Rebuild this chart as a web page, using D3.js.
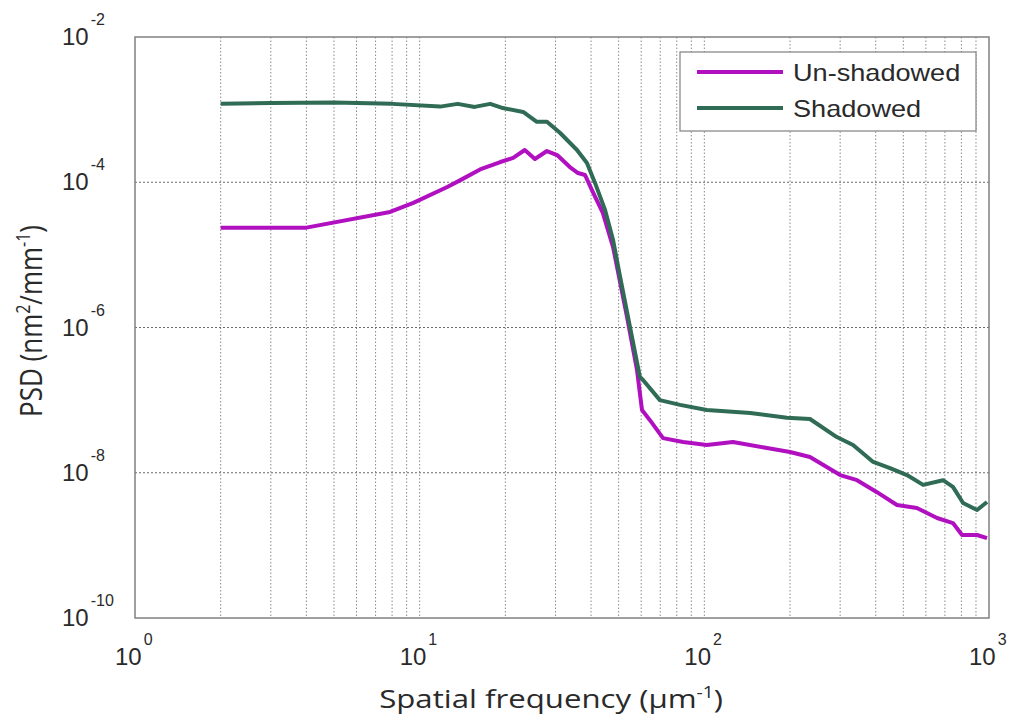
<!DOCTYPE html>
<html>
<head>
    <meta charset="utf-8">
    <style>
        body {
            margin: 0;
            background: white;
        }

        svg {
            display: block;
        }

        .tick-label {
            font-family: 'Liberation Sans', Arial, sans-serif;
            fill: #2a2a2a;
        }

        .axis-title {
            font-family: 'Open Sans', 'Noto Sans', sans-serif;
            fill: #2a2a2a;
        }
    </style>
</head>
<body>
    <svg width="1013" height="724"></svg>

<script src="https://d3js.org/d3.v7.min.js"></script>
<script>
    // spatial frequency (um^-1) and PSD values
    let unshadowedX = [2, 4, 7.87, 9.5, 12.5, 13.9, 16.3, 19.2, 21.3, 23.4, 25.4, 28.0, 30.4, 33.7, 36.0, 38.1,
        40.6, 44.0, 47.8, 53.5, 58.0, 60.4, 64.4, 71.6, 84.2, 102, 126, 166, 200, 235, 300, 344, 404, 475,
        558, 657, 747, 804, 908, 984]
    let unshadowedY = [2.37e-5, 2.37e-5, 3.9e-5, 5.2e-5, 8.6e-5, 1.07e-4, 1.5e-4, 1.9e-4, 2.16e-4, 2.78e-4,
        2.09e-4, 2.69e-4, 2.37e-4, 1.62e-4, 1.34e-4, 1.26e-4, 7.3e-5, 3.78e-5, 1.28e-5, 1.4e-6, 2.6e-7,
        7.3e-8, 5.3e-8, 3.0e-8, 2.65e-8, 2.41e-8, 2.65e-8, 2.19e-8, 1.93e-8, 1.65e-8, 9.3e-9, 7.9e-9,
        5.4e-9, 3.6e-9, 3.27e-9, 2.38e-9, 2.03e-9, 1.39e-9, 1.39e-9, 1.26e-9]

    let shadowedX = [2, 3, 5, 8, 11.8, 13.6, 15.6, 17.7, 19.6, 23.1, 25.8, 28.0, 31.1, 35.7, 38.7, 41.3, 44.8,
        47.8, 50.6, 54.8, 59.4, 60.9, 69.8, 82.2, 102, 145, 195, 235, 292, 333, 392, 449, 515, 587, 689,
        747, 811, 908, 984]
    let shadowedY = [1.2e-3, 1.23e-3, 1.25e-3, 1.2e-3, 1.1e-3, 1.2e-3, 1.09e-3, 1.2e-3, 1.05e-3, 9.3e-4,
        6.8e-4, 6.8e-4, 4.8e-4, 2.78e-4, 1.84e-4, 9.8e-5, 4.15e-5, 1.6e-5, 4.96e-6, 1.02e-6, 2.08e-7,
        1.89e-7, 1.0e-7, 8.6e-8, 7.3e-8, 6.65e-8, 5.7e-8, 5.5e-8, 3.1e-8, 2.41e-8, 1.41e-8, 1.16e-8,
        9.3e-9, 6.8e-9, 7.9e-9, 6.4e-9, 3.83e-9, 3.07e-9, 3.96e-9]

    let seriesNames = ["Un-shadowed", "Shadowed"]
    let seriesColors = ["#b010c0", "#2f6b55"]

    let xTicks = [1, 10, 100, 1000]
    let xTickExp = ["0", "1", "2", "3"]
    let yTicks = [1e-2, 1e-4, 1e-6, 1e-8, 1e-10]
    let yTickExp = ["-2", "-4", "-6", "-8", "-10"]

    let plotL = 135, plotR = 989, plotT = 37, plotB = 618

    let svg = d3.select("svg")

    let x = d3.scaleLog().domain([1, 1000]).range([plotL, plotR])
    let y = d3.scaleLog().domain([1e-10, 1e-2]).range([plotB, plotT])

    // vertical grid at every minor tick
    let xGrid = x.ticks().filter(d => d > 1 && d < 1000)
    svg.append("g")
        .selectAll("line")
        .data(xGrid)
        .join("line")
        .attr("x1", d => x(d))
        .attr("x2", d => x(d))
        .attr("y1", plotT)
        .attr("y2", plotB)
        .style("stroke", "#8a8a8a")
        .style("stroke-width", 1)
        .style("stroke-dasharray", "1.5,2")

    // horizontal grid only at labelled decades
    svg.append("g")
        .selectAll("line")
        .data(yTicks.filter(d => d < 1e-2 && d > 1e-10))
        .join("line")
        .attr("x1", plotL)
        .attr("x2", plotR)
        .attr("y1", d => y(d))
        .attr("y2", d => y(d))
        .style("stroke", "#6a6a6a")
        .style("stroke-width", 1)
        .style("stroke-dasharray", "2,2")

    // frame
    svg.append("rect")
        .attr("x", plotL)
        .attr("y", plotT)
        .attr("width", plotR - plotL)
        .attr("height", plotB - plotT)
        .style("fill", "none")
        .style("stroke", "#808080")
        .style("stroke-width", 1.5)

    // curves
    let line = d3.line()
        .x(d => x(d[0]))
        .y(d => y(d[1]))

    let series = [
        d3.zip(unshadowedX, unshadowedY),
        d3.zip(shadowedX, shadowedY)
    ]

    svg.append("g")
        .selectAll("path")
        .data(series)
        .join("path")
        .attr("d", line)
        .style("fill", "none")
        .style("stroke", (d, i) => seriesColors[i])
        .style("stroke-width", 4)
        .style("stroke-linejoin", "round")

    // y tick labels: 10 with exponent
    let yLab = svg.append("g")
        .selectAll("text")
        .data(yTicks)
        .join("text")
        .attr("class", "tick-label")
        .attr("x", 62)
        .attr("y", d => y(d) + 8)
        .style("font-size", "24px")
    yLab.append("tspan").text("10")
    yLab.append("tspan")
        .attr("dy", -20)
        .attr("dx", 2)
        .style("font-size", "16px")
        .text((d, i) => yTickExp[i])

    // x tick labels
    let xLab = svg.append("g")
        .selectAll("text")
        .data(xTicks)
        .join("text")
        .attr("class", "tick-label")
        .attr("x", d => x(d) - 20)
        .attr("y", plotB + 47)
        .style("font-size", "24px")
    xLab.append("tspan").text("10")
    xLab.append("tspan")
        .attr("dy", -20)
        .attr("dx", 2)
        .style("font-size", "16px")
        .text((d, i) => xTickExp[i])

    // axis titles (the source figure is a bit stretched sideways)
    let xTitle = svg.append("text")
        .attr("class", "axis-title")
        .attr("transform", "translate(551,708) scale(1.2,1)")
        .attr("text-anchor", "middle")
        .style("font-size", "26px")
    xTitle.append("tspan").text("Spatial frequency (μm")
    xTitle.append("tspan").attr("dy", -10).style("font-size", "16px").text("-1")
    xTitle.append("tspan").attr("dy", 10).text(")")

    let yTitle = svg.append("text")
        .attr("class", "axis-title")
        .attr("transform", "translate(42,321) rotate(-90) scale(1,1.2)")
        .attr("text-anchor", "middle")
        .style("font-size", "26px")
    yTitle.append("tspan").text("PSD (nm")
    yTitle.append("tspan").attr("dy", -10).style("font-size", "16px").text("2")
    yTitle.append("tspan").attr("dy", 10).text("/mm")
    yTitle.append("tspan").attr("dy", -10).style("font-size", "16px").text("-1")
    yTitle.append("tspan").attr("dy", 10).text(")")

    // legend
    let legend = svg.append("g")
    legend.append("rect")
        .attr("x", 680)
        .attr("y", 52)
        .attr("width", 296)
        .attr("height", 79)
        .style("fill", "white")
        .style("stroke", "#808080")
        .style("stroke-width", 1.2)

    let items = legend.selectAll(".item")
        .data(seriesNames)
        .join("g")
        .attr("transform", (d, i) => "translate(0," + (72 + i * 36) + ")")

    items.append("line")
        .attr("x1", 697)
        .attr("x2", 783)
        .style("stroke", (d, i) => seriesColors[i])
        .style("stroke-width", 4)

    items.append("text")
        .attr("class", "tick-label")
        .attr("transform", "translate(793,9) scale(1.13,1)")
        .style("font-size", "24px")
        .text(d => d)
</script>
</body>
</html>
